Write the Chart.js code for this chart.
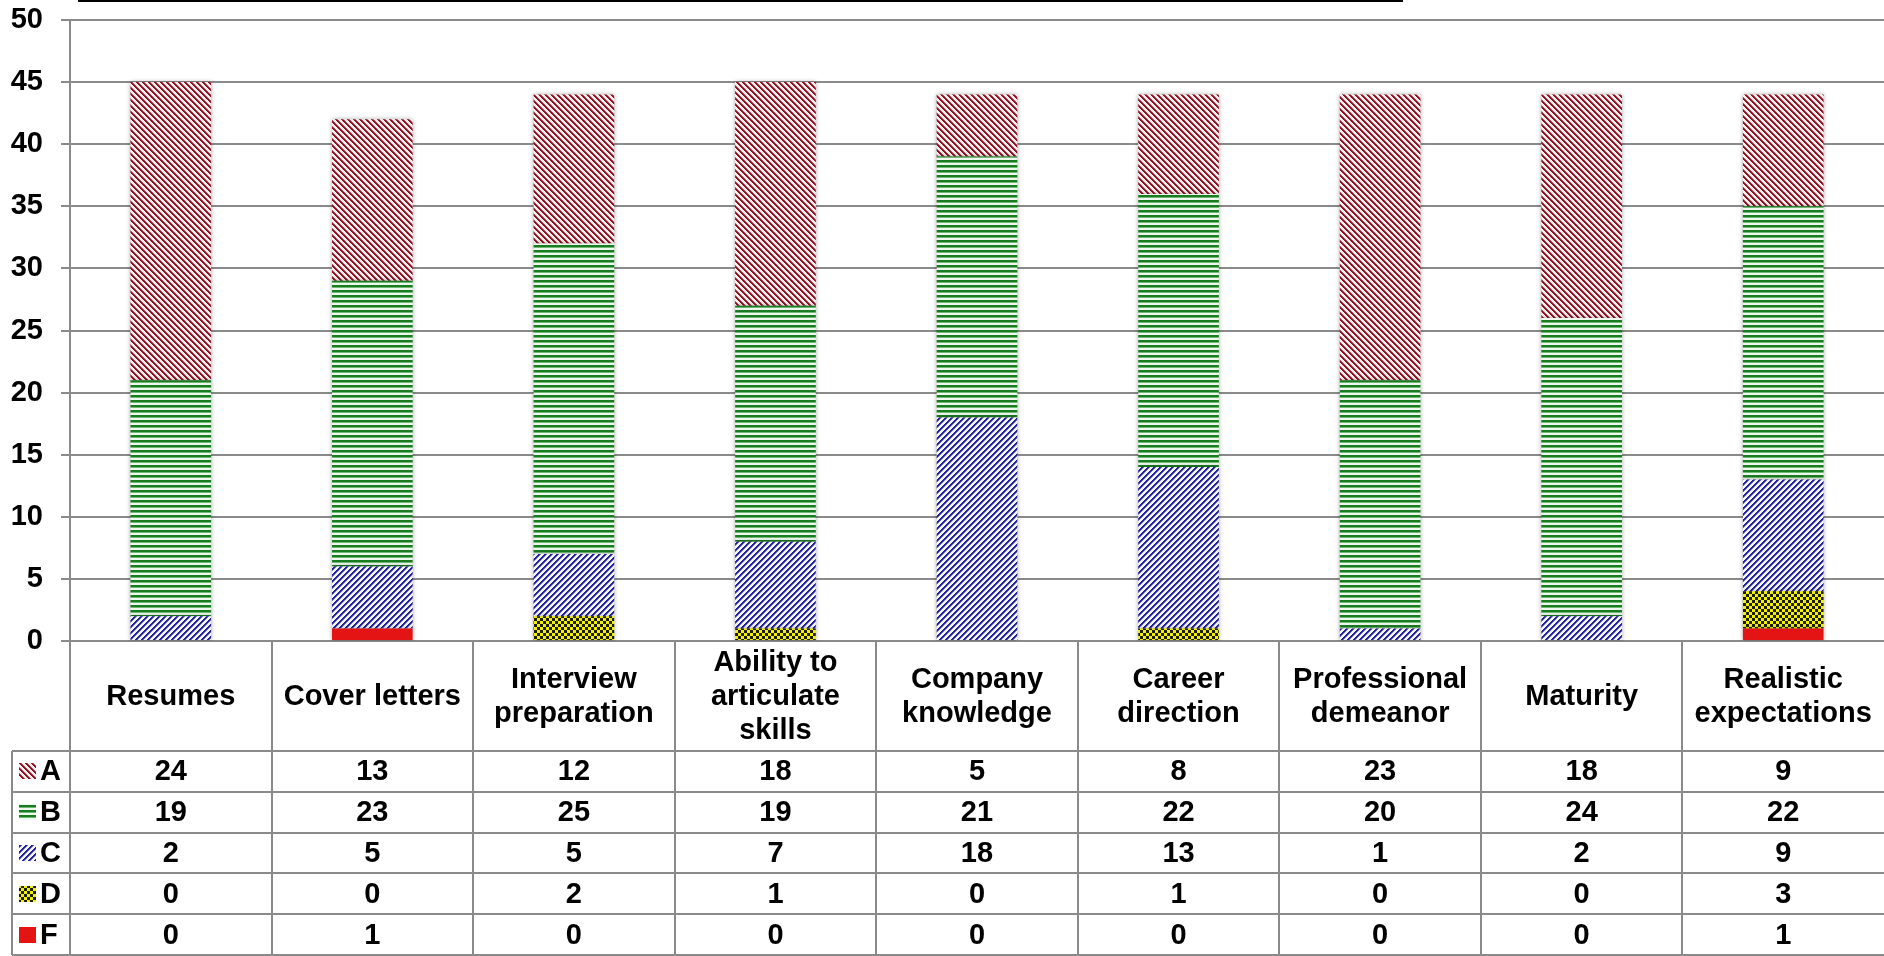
<!DOCTYPE html>
<html>
<head>
<meta charset="utf-8">
<script src="https://cdn.jsdelivr.net/npm/chart.js@4.4.1/dist/chart.umd.min.js"></script>
<style>
  html, body { margin: 0; padding: 0; background: #fff; }
  #wrap { width: 1884px; height: 956px; }
</style>
</head>
<body>
<div id="wrap"><canvas id="gradeChart" width="1884" height="956"></canvas></div>
<script>
// Grade counts per skill area
const categories = ['Resumes', 'Cover letters', 'Interview preparation', 'Ability to articulate skills',
    'Company knowledge', 'Career direction', 'Professional demeanor', 'Maturity', 'Realistic expectations'];
const categoryLines = [['Resumes'], ['Cover letters'], ['Interview', 'preparation'], ['Ability to', 'articulate', 'skills'],
    ['Company', 'knowledge'], ['Career', 'direction'], ['Professional', 'demeanor'], ['Maturity'], ['Realistic', 'expectations']];
const gradeA = [24, 13, 12, 18, 5, 8, 23, 18, 9];
const gradeB = [19, 23, 25, 19, 21, 22, 20, 24, 22];
const gradeC = [2, 5, 5, 7, 18, 13, 1, 2, 9];
const gradeD = [0, 0, 2, 1, 0, 1, 0, 0, 3];
const gradeF = [0, 1, 0, 0, 0, 0, 0, 0, 1];
const yTicks = { min: 0, max: 50, step: 5 };

const FONT = "'Liberation Sans', Arial, sans-serif";
const GRID = '#8a8a8a';

/**
 * Build a small pixel tile and return it as a canvas pattern
 * @param {number} size - tile size in px
 * @param {Function} colorAt - (x, y) => css colour
 */
function makePattern(size, colorAt) {
    const c = document.createElement('canvas');
    c.width = size;
    c.height = size;
    const g = c.getContext('2d');
    for (let y = 0; y < size; y++) {
        for (let x = 0; x < size; x++) {
            g.fillStyle = colorAt(x, y);
            g.fillRect(x, y, 1, 1);
        }
    }
    return g.createPattern(c, 'repeat');
}

const ctx0 = document.getElementById('gradeChart').getContext('2d');

// A: dark red "\" stripes
const patA = makePattern(6, (x, y) => {
    const k = ((x - y) % 6 + 6) % 6;
    return k < 2 ? '#8a1222' : (k === 2 ? '#bb5a66' : '#fbeff0');
});
// B: green horizontal stripes
const patB = makePattern(5, (x, y) => {
    const k = y % 5;
    return k < 2 ? '#1a7c20' : (k === 2 ? '#6fba72' : '#eef8ee');
});
// C: blue "/" stripes
const patC = makePattern(6, (x, y) => {
    const k = (x + y) % 6;
    return k < 2 ? '#20209c' : (k === 2 ? '#6e6ec4' : '#f4f4fc');
});
// D: yellow / black checker
const patD = makePattern(6, (x, y) => {
    const cell = (Math.floor(x / 3) + Math.floor(y / 3)) % 2;
    return cell ? '#f2f200' : '#1e1e08';
});
const colF = '#e41414';

const series = [
    { label: 'A', data: gradeA, fill: patA },
    { label: 'B', data: gradeB, fill: patB },
    { label: 'C', data: gradeC, fill: patC },
    { label: 'D', data: gradeD, fill: patD },
    { label: 'F', data: gradeF, fill: colF }
];

// thin black rule left over at the very top of the picture
const topRule = {
    id: 'topRule',
    afterDraw(chart) {
        const ctx = chart.ctx;
        ctx.save();
        ctx.fillStyle = '#000';
        ctx.fillRect(78, 0, 1325, 2);
        ctx.restore();
    }
};

// soft shadow round the bar segments
const barShadow = {
    id: 'barShadow',
    beforeDatasetsDraw(chart) {
        const ctx = chart.ctx;
        ctx.save();
        ctx.shadowColor = 'rgba(0,0,0,0.35)';
        ctx.shadowBlur = 4;
    },
    afterDatasetsDraw(chart) {
        chart.ctx.restore();
    }
};

// data table under the plot: category row + one row per grade
const dataTable = {
    id: 'dataTable',
    afterDraw(chart) {
        const ctx = chart.ctx;
        const area = chart.chartArea;
        const xs = chart.scales.x;
        const colW = xs.getPixelForValue(1) - xs.getPixelForValue(0);
        const catTop = area.bottom;
        const rowTop = 751;
        const rowH = 40.8;
        const tableBottom = rowTop + rowH * series.length;
        const legendLeft = 12;

        ctx.save();
        ctx.strokeStyle = GRID;
        ctx.lineWidth = 2;

        // vertical separators
        for (let k = 0; k < categories.length; k++) {
            const bx = Math.round(xs.getPixelForValue(k) - colW / 2);
            ctx.beginPath();
            ctx.moveTo(bx, catTop);
            ctx.lineTo(bx, tableBottom);
            ctx.stroke();
        }
        ctx.beginPath();
        ctx.moveTo(legendLeft, rowTop);
        ctx.lineTo(legendLeft, tableBottom);
        ctx.stroke();

        // horizontal rules
        for (let r = 0; r <= series.length; r++) {
            const y = Math.round(rowTop + r * rowH);
            ctx.beginPath();
            ctx.moveTo(legendLeft, y);
            ctx.lineTo(area.right, y);
            ctx.stroke();
        }

        ctx.fillStyle = '#000';
        ctx.font = 'bold 29px ' + FONT;
        ctx.textAlign = 'center';
        ctx.textBaseline = 'middle';

        // category labels
        const lineH = 33.6;
        const catMid = (catTop + rowTop) / 2;
        categoryLines.forEach((lines, i) => {
            const cx = xs.getPixelForValue(i);
            const y0 = catMid - (lines.length - 1) * lineH / 2;
            lines.forEach((t, j) => ctx.fillText(t, cx, y0 + j * lineH + 1));
        });

        // grade rows
        series.forEach((s, r) => {
            const cy = rowTop + r * rowH + rowH / 2;
            ctx.fillStyle = s.fill;
            ctx.fillRect(19, Math.round(cy - 8), 17, 16);
            ctx.fillStyle = '#000';
            ctx.textAlign = 'left';
            ctx.fillText(s.label, 40, cy + 1);
            ctx.textAlign = 'center';
            s.data.forEach((v, i) => ctx.fillText(String(v), xs.getPixelForValue(i), cy + 1));
        });
        ctx.restore();
    }
};

// stacked bottom-up: F, D, C, B, A
const stackOrder = [4, 3, 2, 1, 0];

new Chart(ctx0, {
    type: 'bar',
    data: {
        labels: categories,
        datasets: stackOrder.map(i => ({
            label: series[i].label,
            data: series[i].data,
            backgroundColor: series[i].fill,
            borderWidth: 0,
            barPercentage: 0.4,
            categoryPercentage: 1.0
        }))
    },
    options: {
        responsive: false,
        devicePixelRatio: 1,
        animation: false,
        layout: { padding: { top: 20, bottom: 315, left: 0, right: 0 } },
        plugins: {
            legend: { display: false },
            tooltip: { enabled: false }
        },
        scales: {
            x: {
                stacked: true,
                display: false
            },
            y: {
                stacked: true,
                min: yTicks.min,
                max: yTicks.max,
                afterFit(scale) {
                    scale.width = 70;
                    scale.paddingTop = 0;
                    scale.paddingBottom = 0;
                },
                ticks: {
                    stepSize: yTicks.step,
                    color: '#000',
                    padding: 18,
                    font: { family: FONT, size: 29, weight: 'bold' }
                },
                grid: {
                    color: GRID,
                    lineWidth: 2,
                    tickLength: 9
                },
                border: { display: true, color: GRID, width: 2 }
            }
        }
    },
    plugins: [barShadow, dataTable, topRule]
});
</script>
</body>
</html>
